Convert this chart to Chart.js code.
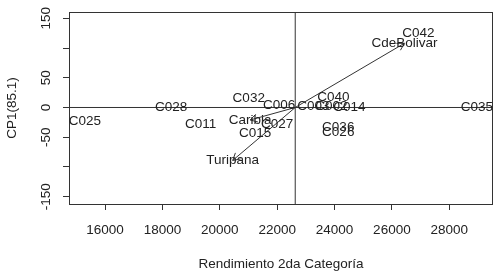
<!DOCTYPE html>
<html>
<head>
<meta charset="utf-8">
<script src="https://cdn.jsdelivr.net/npm/chart.js@4.4.1/dist/chart.umd.min.js"></script>
<style>
  html, body { margin: 0; padding: 0; background: #fff; }
  canvas { display: block; }
</style>
</head>
<body>
<canvas id="ammi" width="500" height="274"></canvas>
<script>
// genotypes: mean yield (x) vs first interaction axis (y)
const genotypes = ['C025', 'C028', 'C011', 'C032', 'C006', 'C003', 'C002', 'C014', 'C040', 'C036', 'C026', 'C035', 'C042', 'C027', 'C015'];
const genoYield = [15300, 18300, 19330, 21010, 22070, 23260, 23890, 24520, 23960, 24130, 24130, 28965, 26920, 22000, 21235];
const genoPC1 = [-23, 0.5, -28, 15, 3, 2, 2, 0.5, 16.5, -33, -41.5, 0, 124.5, -28, -43];

// environments, drawn as arrows from the centre
const environments = ['CdeBolivar', 'Caribia', 'Turipana'];
const envYield = [26436, 21060, 20450];
const envPC1 = [108, -21, -89];

const grandMean = 22630;

const xTicks = [16000, 18000, 20000, 22000, 24000, 26000, 28000];
const yTicks = [-150, -100, -50, 0, 50, 100, 150];
const yTickLabels = [-150, -50, 0, 50, 150];

const xRange = [14743, 29525];
const yRange = [-162.3, 160.6];

const FONT = '13.5px "Liberation Sans", Arial, sans-serif';
const INK = '#222';
const LINE = '#333';

const genoPoints = genotypes.map((g, i) => ({ x: genoYield[i], y: genoPC1[i] }));

const envDatasets = environments.map((e, i) => ({
  label: e,
  type: 'line',
  data: [{ x: grandMean, y: 0 }, { x: envYield[i], y: envPC1[i] }],
  borderColor: LINE,
  borderWidth: 1,
  pointRadius: 0,
  fill: false,
  isArrow: true
}));

const biplotDecor = {
  id: 'biplotDecor',
  afterDatasetsDraw(chart) {
    const { ctx, chartArea: a, scales: { x, y } } = chart;
    ctx.save();

    // frame
    ctx.strokeStyle = LINE;
    ctx.lineWidth = 1;
    ctx.strokeRect(Math.round(a.left) + 0.5, Math.round(a.top) + 0.5,
      Math.round(a.right - a.left) - 1, Math.round(a.bottom - a.top));

    // arrow heads
    chart.data.datasets.forEach((ds, di) => {
      if (!ds.isArrow) return;
      const pts = chart.getDatasetMeta(di).data;
      const p0 = pts[0], p1 = pts[1];
      const ang = Math.atan2(p1.y - p0.y, p1.x - p0.x);
      const len = 8;
      ctx.beginPath();
      ctx.moveTo(p1.x - len * Math.cos(ang - Math.PI / 6), p1.y - len * Math.sin(ang - Math.PI / 6));
      ctx.lineTo(p1.x, p1.y);
      ctx.lineTo(p1.x - len * Math.cos(ang + Math.PI / 6), p1.y - len * Math.sin(ang + Math.PI / 6));
      ctx.stroke();
    });

    ctx.font = FONT;
    ctx.fillStyle = INK;
    ctx.textAlign = 'center';
    ctx.textBaseline = 'middle';

    // genotype labels
    const gMeta = chart.getDatasetMeta(0);
    gMeta.data.forEach((pt, i) => ctx.fillText(genotypes[i], pt.x, pt.y));

    // environment labels at arrow ends
    chart.data.datasets.forEach((ds, di) => {
      if (!ds.isArrow) return;
      const p1 = chart.getDatasetMeta(di).data[1];
      ctx.fillText(ds.label, p1.x, p1.y);
    });

    // x tick labels
    xTicks.forEach(v => ctx.fillText(String(v), x.getPixelForValue(v), a.bottom + 26));

    // y tick labels, rotated like R
    yTickLabels.forEach(v => {
      ctx.save();
      ctx.translate(a.left - 23, y.getPixelForValue(v));
      ctx.rotate(-Math.PI / 2);
      ctx.fillText(String(v), 0, 0);
      ctx.restore();
    });

    // axis titles
    ctx.fillText('Rendimiento 2da Categoría', (a.left + a.right) / 2, a.bottom + 60);
    ctx.save();
    ctx.translate(12.5, (a.top + a.bottom) / 2);
    ctx.rotate(-Math.PI / 2);
    ctx.fillText('CP1(85.1)', 0, 0);
    ctx.restore();

    ctx.restore();
  }
};

new Chart(document.getElementById('ammi'), {
  type: 'scatter',
  data: {
    datasets: [
      { label: 'genotypes', data: genoPoints, pointRadius: 0, showLine: false },
      {
        label: 'hline', type: 'line',
        data: [{ x: xRange[0], y: 0 }, { x: xRange[1], y: 0 }],
        borderColor: LINE, borderWidth: 1, pointRadius: 0
      },
      {
        label: 'vline', type: 'line',
        data: [{ x: grandMean, y: yRange[0] }, { x: grandMean, y: yRange[1] }],
        borderColor: LINE, borderWidth: 1, pointRadius: 0
      },
      ...envDatasets
    ]
  },
  options: {
    responsive: false,
    animation: false,
    layout: { padding: { top: 12, right: 7, left: 0, bottom: 0 } },
    plugins: { legend: { display: false }, tooltip: { enabled: false } },
    scales: {
      x: {
        type: 'linear',
        min: xRange[0],
        max: xRange[1],
        afterBuildTicks: s => { s.ticks = xTicks.map(v => ({ value: v })); },
        afterFit: s => { s.height = 70; },
        ticks: { display: false },
        grid: { drawOnChartArea: false, drawTicks: true, tickLength: 6, color: LINE },
        border: { display: false }
      },
      y: {
        type: 'linear',
        min: yRange[0],
        max: yRange[1],
        afterBuildTicks: s => { s.ticks = yTicks.map(v => ({ value: v })); },
        afterFit: s => { s.width = 69; },
        ticks: { display: false },
        grid: { drawOnChartArea: false, drawTicks: true, tickLength: 6, color: LINE },
        border: { display: false }
      }
    }
  },
  plugins: [biplotDecor]
});
</script>
</body>
</html>
